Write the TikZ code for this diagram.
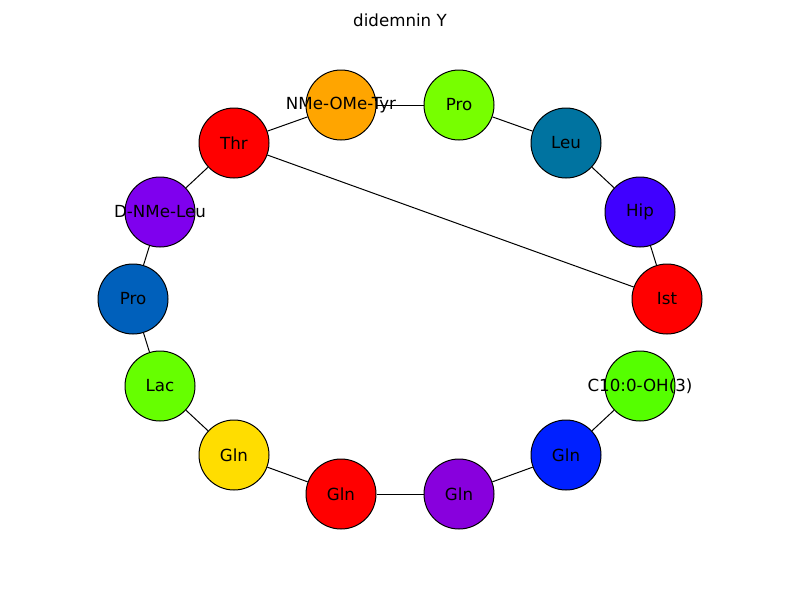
\documentclass[tikz,border=0pt]{standalone}
\usepackage{fontspec}
\setmainfont{DejaVu Sans}
\usepackage{tikz}

\definecolor{tyrorange}{HTML}{FFA500}
\definecolor{prolime}{HTML}{77FF00}
\definecolor{leuteal}{HTML}{0073A0}
\definecolor{hipviolet}{HTML}{4000FF}
\definecolor{istred}{HTML}{FF0000}
\definecolor{cdecgreen}{HTML}{55FF00}
\definecolor{glnblue}{HTML}{0020FF}
\definecolor{glnpurple}{HTML}{8800DD}
\definecolor{glnyellow}{HTML}{FFDD00}
\definecolor{lacgreen}{HTML}{66FF00}
\definecolor{problue}{HTML}{0060BB}
\definecolor{leupurple}{HTML}{7F00EE}

\tikzset{
  residue/.style={circle,draw=black,line width=0.75pt,minimum size=52.5pt,inner sep=0pt},
  bond/.style={black,line width=0.75pt}
}

\begin{document}
\begin{tikzpicture}[x=0.75pt,y=-0.75pt,every node/.style={font=\fontsize{12.5}{15}\selectfont}]

\useasboundingbox (0,0) rectangle (800,600);

\node (title) at (400,20) {didemnin Y};

% residues
\node [residue,fill=tyrorange] (tyr) at (341,105) {};
\node [residue,fill=prolime] (proA) at (459,105) {};
\node [residue,fill=leuteal] (leu) at (566,143) {};
\node [residue,fill=hipviolet] (hip) at (640,212) {};
\node [residue,fill=istred] (ist) at (667,299) {};
\node [residue,fill=cdecgreen] (cdec) at (640,386) {};
\node [residue,fill=glnblue] (glnA) at (566,455) {};
\node [residue,fill=glnpurple] (glnB) at (459,494) {};
\node [residue,fill=istred] (glnC) at (341,494) {};
\node [residue,fill=glnyellow] (glnD) at (234,455) {};
\node [residue,fill=lacgreen] (lac) at (160,386) {};
\node [residue,fill=problue] (proB) at (133,299) {};
\node [residue,fill=leupurple] (dleu) at (160,212) {};
\node [residue,fill=istred] (thr) at (234,143) {};

% bonds
\draw [bond] (tyr) -- (proA);
\draw [bond] (proA) -- (leu);
\draw [bond] (leu) -- (hip);
\draw [bond] (hip) -- (ist);
\draw [bond] (thr) -- (ist);
\draw [bond] (thr) -- (tyr);
\draw [bond] (thr) -- (dleu);
\draw [bond] (dleu) -- (proB);
\draw [bond] (proB) -- (lac);
\draw [bond] (lac) -- (glnD);
\draw [bond] (glnD) -- (glnC);
\draw [bond] (glnC) -- (glnB);
\draw [bond] (glnB) -- (glnA);
\draw [bond] (glnA) -- (cdec);

% labels on top
\node at (tyr) {NMe-OMe-Tyr};
\node at (proA) {Pro};
\node at (leu) {Leu};
\node at (hip) {Hip};
\node at (ist) {Ist};
\node at (cdec) {C10:0-OH(3)};
\node at (glnA) {Gln};
\node at (glnB) {Gln};
\node at (glnC) {Gln};
\node at (glnD) {Gln};
\node at (lac) {Lac};
\node at (proB) {Pro};
\node at (dleu) {D-NMe-Leu};
\node at (thr) {Thr};

\end{tikzpicture}
\end{document}
